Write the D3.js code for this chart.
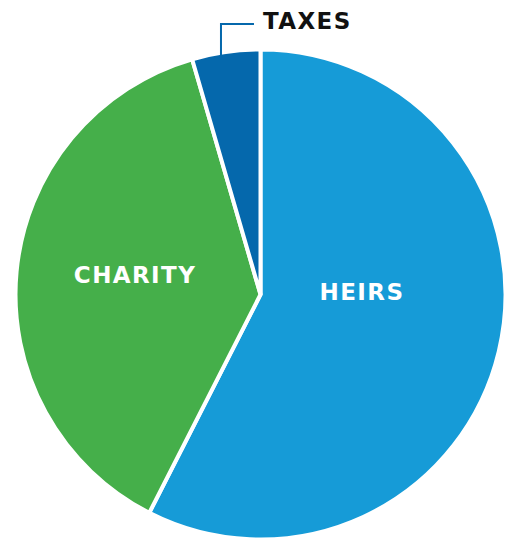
<!DOCTYPE html>
<html lang="en">
<head>
<meta charset="UTF-8">
<title>Estate split</title>
<script src="https://d3js.org/d3.v7.min.js"></script>
<style>
  body { margin: 0; background: #fff; }
  svg { display: block; }
  .lbl { font-family: "DejaVu Sans", sans-serif; font-weight: 700; font-size: 23px; letter-spacing: 1.4px; }
</style>
</head>
<body>
<div id="chart"></div>
<script>
  // slice data (percent of the estate)
  const categories = ["HEIRS", "CHARITY", "TAXES"];
  const values = [57.5, 38, 4.5];
  const colors = ["#169bd7", "#45af4a", "#0568ac"];

  const width = 506, height = 539;
  const cx = 260.5, cy = 294.5, radius = 245;

  const svg = d3.select("#chart").append("svg")
    .attr("width", width)
    .attr("height", height);

  const g = svg.append("g").attr("transform", `translate(${cx},${cy})`);

  const pie = d3.pie().sort(null).value(d => d.value);
  const arc = d3.arc().innerRadius(0).outerRadius(radius);

  const data = categories.map((c, i) => ({ name: c, value: values[i], color: colors[i] }));
  const arcs = pie(data);

  g.selectAll("path.slice")
    .data(arcs)
    .enter()
    .append("path")
    .attr("class", "slice")
    .attr("d", arc)
    .attr("fill", d => d.data.color)
    .attr("stroke", "#fff")
    .attr("stroke-width", 4)
    .attr("stroke-linejoin", "miter");

  // inside labels: baseline placed by polar coords (degrees from top, distance from centre)
  const inside = { HEIRS: [93.1, 101.6], CHARITY: [275.2, 126] };
  const rad = a => a * Math.PI / 180;
  g.selectAll("text.inner")
    .data(arcs.filter(d => inside[d.data.name]))
    .enter()
    .append("text")
    .attr("class", "lbl inner")
    .attr("fill", "#fff")
    .attr("text-anchor", "middle")
    .attr("x", d => Math.sin(rad(inside[d.data.name][0])) * inside[d.data.name][1])
    .attr("y", d => -Math.cos(rad(inside[d.data.name][0])) * inside[d.data.name][1])
    .text(d => d.data.name);

  // TAXES callout above the small slice
  const taxes = arcs[2];
  const mid = (taxes.startAngle + taxes.endAngle) / 2;
  const ax = Math.sin(mid) * radius - 5;
  const ay = -Math.cos(mid) * (radius - 6);
  const lineY = -cy + 24;
  g.append("path")
    .attr("d", `M${ax},${ay}V${lineY}H${ax + 33}`)
    .attr("fill", "none")
    .attr("stroke", "#0568ac")
    .attr("stroke-width", 2);

  g.append("text")
    .attr("class", "lbl")
    .attr("fill", "#111")
    .attr("x", ax + 42)
    .attr("y", lineY + 5)
    .text(taxes.data.name);
</script>
</body>
</html>
